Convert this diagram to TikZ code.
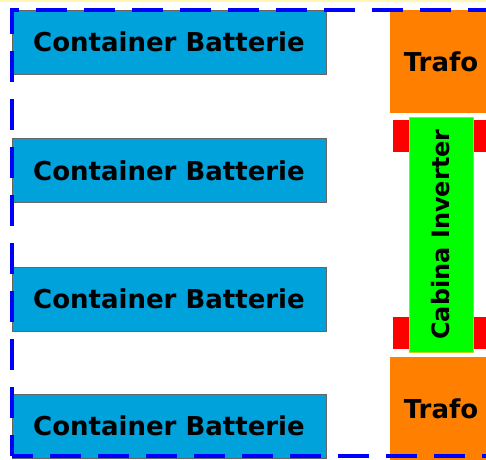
\documentclass[tikz,border=0pt]{standalone}
\usepackage{fontspec}
\setmainfont{DejaVu Sans}
\definecolor{contblue}{RGB}{0,162,219}
\definecolor{trafoorange}{RGB}{255,128,0}
\definecolor{invgreen}{RGB}{0,255,0}
\definecolor{padred}{RGB}{255,0,0}
\definecolor{edgeyellow}{RGB}{255,248,180}
\tikzset{
  container/.style={draw=black!60, line width=0.8pt, fill=contblue, inner sep=0pt,
    minimum width=314pt, minimum height=64pt, font=\fontsize{26}{30}\selectfont\bfseries},
  trafo/.style={fill=trafoorange, inner sep=0pt, minimum width=102pt, minimum height=103pt,
    font=\fontsize{26}{30}\selectfont\bfseries},
  inverter/.style={draw=yellow!70!green, line width=0.6pt, fill=invgreen, inner sep=0pt,
    minimum width=64pt, minimum height=235pt},
  pad/.style={fill=padred, inner sep=0pt, minimum width=97pt, minimum height=32pt},
  area/.style={draw=blue, line width=4pt, dash pattern=on 31pt off 17pt, dash phase=10pt}
}
\begin{document}
\begin{tikzpicture}[x=1pt, y=-1pt]
\useasboundingbox (0,0) rectangle (486,459);
\clip (0,0) rectangle (486,459);

\fill[edgeyellow] (0,0) rectangle (486,2);

% battery containers
\node[container] (cont1) at (169,42) {Container Batterie};
\node[container] (cont2) at (169,170.5) {Container Batterie};
\node[container] (cont3) at (169,299) {Container Batterie};
\node[container] (cont4) at (169,426) {Container Batterie};

% transformers
\node[trafo] (trafo1) at (441,61.5) {Trafo};
\node[trafo] (trafo2) at (441,408.5) {Trafo};

% inverter cabin with pads
\node[pad] (pad1) at (441.5,136) {};
\node[pad] (pad2) at (441.5,333) {};
\node[inverter] (cabina) at (441,234.5) {};
\node[rotate=90, font=\fontsize{24}{28}\selectfont\bfseries] (cabinatext) at (cabina) {Cabina Inverter};

% site boundary
\draw[area] (12,456) -- (12,10) -- (520,10);
\draw[area] (12,456) -- (520,456);
\end{tikzpicture}
\end{document}
